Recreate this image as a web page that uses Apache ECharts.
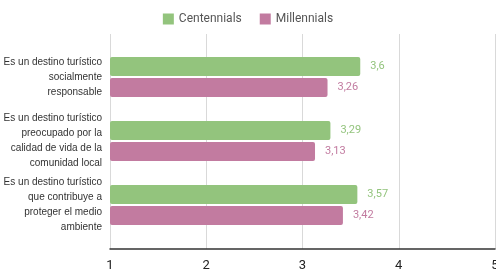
<!DOCTYPE html>
<html>
<head>
<meta charset="utf-8">
<script src="https://cdn.jsdelivr.net/npm/echarts@6/dist/echarts.min.js"></script>
<style>
  html, body { margin: 0; padding: 0; background: #fff; }
  #chart { width: 496px; height: 275px; }
</style>
</head>
<body>
<div id="chart"></div>
<script>
const categories = [
    'Es un destino turístico\nsocialmente\nresponsable',
    'Es un destino turístico\npreocupado por la\ncalidad de vida de la\ncomunidad local',
    'Es un destino turístico\nque contribuye a\nproteger el medio\nambiente'
];
const seriesNames = ['Centennials', 'Millennials'];
const centennials = [3.6, 3.29, 3.57];
const millennials = [3.26, 3.13, 3.42];
const colors = ['#93c47d', '#c27ba0'];

const chart = echarts.init(document.getElementById('chart'));

const makeSeries = (name, data, color) => ({
    name: name,
    type: 'bar',
    xAxisIndex: 1,
    yAxisIndex: 1,
    data: data,
    barWidth: 19,
    barGap: '10%',
    itemStyle: { color: color, borderRadius: 2 },
    label: {
        show: true,
        position: 'right',
        distance: 10,
        color: color,
        fontFamily: 'Roboto',
        fontSize: 11,
        formatter: (p) => String(p.value).replace('.', ',')
    }
});

const option = {
    animation: false,
    legend: {
        top: 8,
        left: 'center',
        itemWidth: 11,
        itemHeight: 11,
        itemGap: 18,
        icon: 'rect',
        textStyle: { color: '#555', fontFamily: 'Roboto', fontSize: 12 },
        data: seriesNames
    },
    grid: [
        { left: 110, right: 1, top: 34, bottom: 26, outerBoundsMode: 'none' },
        { left: 110, right: 1, top: 45, height: 192, outerBoundsMode: 'none' }
    ],
    xAxis: [
        {
            gridIndex: 0,
            type: 'value',
            min: 1,
            max: 5,
            interval: 1,
            axisLine: { show: true, lineStyle: { color: '#333', width: 1.5 } },
            axisTick: { show: false },
            splitLine: { lineStyle: { color: '#d9d9d9' } },
            axisLabel: { color: '#222', fontFamily: 'Roboto', fontSize: 13, margin: 10 }
        },
        {
            gridIndex: 1,
            type: 'value',
            min: 1,
            max: 5,
            show: false
        }
    ],
    yAxis: [
        { gridIndex: 0, type: 'value', show: false },
        {
            gridIndex: 1,
            type: 'category',
            inverse: true,
            data: categories,
            axisLine: { show: false },
            axisTick: { show: false },
            axisLabel: {
                color: '#333',
                fontFamily: 'Liberation Sans',
                fontSize: 10,
                lineHeight: 15,
                margin: 8,
                align: 'right'
            }
        }
    ],
    series: [
        makeSeries(seriesNames[0], centennials, colors[0]),
        makeSeries(seriesNames[1], millennials, colors[1])
    ]
};

chart.setOption(option);
</script>
</body>
</html>
